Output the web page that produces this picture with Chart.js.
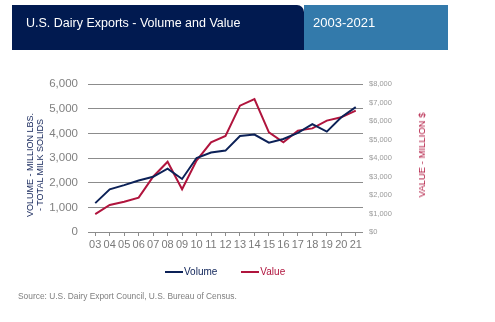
<!DOCTYPE html>
<html>
<head>
<meta charset="utf-8">
<script src="https://cdn.jsdelivr.net/npm/chart.js@4"></script>
<style>
  html, body { margin: 0; padding: 0; background: #fff; }
  body { width: 495px; height: 322px; position: relative; overflow: hidden; font-family: "Liberation Sans", Arial, sans-serif; }
  #chart { position: absolute; left: 0; top: 0; width: 495px; height: 322px; }
  .hdr { position: absolute; top: 5px; height: 45px; color: #fff; font-size: 13px; }
  #hdrMain { left: 12px; width: 292px; background: #011a50; border-top-right-radius: 7px; }
  #hdrYears { left: 304px; width: 144px; background: #337aab; }
  .hdr span { position: absolute; top: 10px; white-space: nowrap; }
  #hdrMain span { left: 14px; font-size: 12.5px; top: 10.5px; }
  #hdrYears span { left: 9px; }
  .axisTitle { position: absolute; transform: translate(-50%, -50%) rotate(-90deg); text-align: center; white-space: nowrap; font-size: 9px; line-height: 10px; }
  #yTitle { left: 35px; top: 165px; color: #14255a; }
  #y1Title { left: 422px; top: 155px; color: #b0143d; font-size: 9.5px; }
  #legend { position: absolute; top: 265px; left: 165px; font-size: 10px; line-height: 13px; display: flex; }
  .lg { display: flex; align-items: center; }
  .lg i { display: inline-block; width: 18px; height: 2px; margin-right: 1px; }
  #source { position: absolute; left: 18px; top: 291px; font-size: 8.4px; color: #7f7f7f; }
</style>
</head>
<body>
<canvas id="chart" width="495" height="322"></canvas>
<div class="hdr" id="hdrMain"><span>U.S. Dairy Exports - Volume and Value</span></div>
<div class="hdr" id="hdrYears"><span>2003-2021</span></div>
<div class="axisTitle" id="yTitle">VOLUME - MILLION LBS.<br>- TOTAL MILK SOLIDS</div>
<div class="axisTitle" id="y1Title">VALUE - MILLION $</div>
<div id="legend">
  <div class="lg" style="color:#0c2157"><i style="background:#0c2157"></i>Volume</div>
  <div class="lg" style="color:#b0143d; margin-left:24px"><i style="background:#b0143d"></i>Value</div>
</div>
<div id="source">Source: U.S. Dairy Export Council, U.S. Bureau of Census.</div>
<script>
// Two-digit year labels, 2003-2021
const years = ['03','04','05','06','07','08','09','10','11','12','13','14','15','16','17','18','19','20','21'];
// Export volume, million lbs. total milk solids
const volume = [1170, 1730, 1900, 2090, 2240, 2570, 2150, 3000, 3220, 3300, 3890, 3950, 3620, 3770, 4020, 4370, 4070, 4650, 5060];
// Export value, million $
const value = [970, 1460, 1640, 1860, 2990, 3800, 2310, 3860, 4850, 5190, 6830, 7190, 5390, 4850, 5480, 5600, 6020, 6200, 6560];
// Axis tick values
const volumeTicks = [0, 1000, 2000, 3000, 4000, 5000, 6000];
const valueTicks = [0, 1000, 2000, 3000, 4000, 5000, 6000, 7000, 8000];

const NAVY = '#0c2157';
const CRIMSON = '#b0143d';
const GRID = '#8c8c8c';

new Chart(document.getElementById('chart'), {
  type: 'line',
  data: {
    labels: years,
    datasets: [
      { label: 'Volume', data: volume, yAxisID: 'y', borderColor: NAVY, backgroundColor: NAVY, borderWidth: 2, pointRadius: 0, tension: 0 },
      { label: 'Value', data: value, yAxisID: 'y1', borderColor: CRIMSON, backgroundColor: CRIMSON, borderWidth: 2, pointRadius: 0, tension: 0 }
    ]
  },
  options: {
    responsive: false,
    animation: false,
    layout: { padding: { top: 84, left: 0, right: 0, bottom: 70 } },
    plugins: { legend: { display: false }, tooltip: { enabled: false } },
    scales: {
      x: {
        offset: true,
        grid: { drawOnChartArea: false, drawTicks: true, tickLength: 4, color: GRID, offset: false },
        border: { display: false },
        ticks: { color: '#7a7a7a', font: { family: 'Liberation Sans', size: 11 }, padding: 2, maxRotation: 0, autoSkip: false },
        afterFit: s => { s.height = 20; }
      },
      y: {
        position: 'left',
        min: volumeTicks[0], max: volumeTicks[volumeTicks.length - 1],
        afterBuildTicks: s => { s.ticks = volumeTicks.map(v => ({ value: v })); },
        grid: { color: GRID, drawTicks: false, lineWidth: 1 },
        border: { display: false },
        ticks: { color: '#808080', font: { family: 'Liberation Sans', size: 11.5 }, padding: 10,
                 callback: v => v.toLocaleString('en-US') },
        afterFit: s => { s.width = 88; }
      },
      y1: {
        position: 'right',
        min: valueTicks[0], max: valueTicks[valueTicks.length - 1],
        afterBuildTicks: s => { s.ticks = valueTicks.map(v => ({ value: v })); },
        grid: { display: false, drawTicks: false },
        border: { display: false },
        ticks: { color: '#9a9a9a', font: { family: 'Liberation Sans', size: 7.5 }, padding: 6,
                 callback: v => '$' + v.toLocaleString('en-US') },
        afterFit: s => { s.width = 132; }
      }
    }
  }
});
</script>
</body>
</html>
